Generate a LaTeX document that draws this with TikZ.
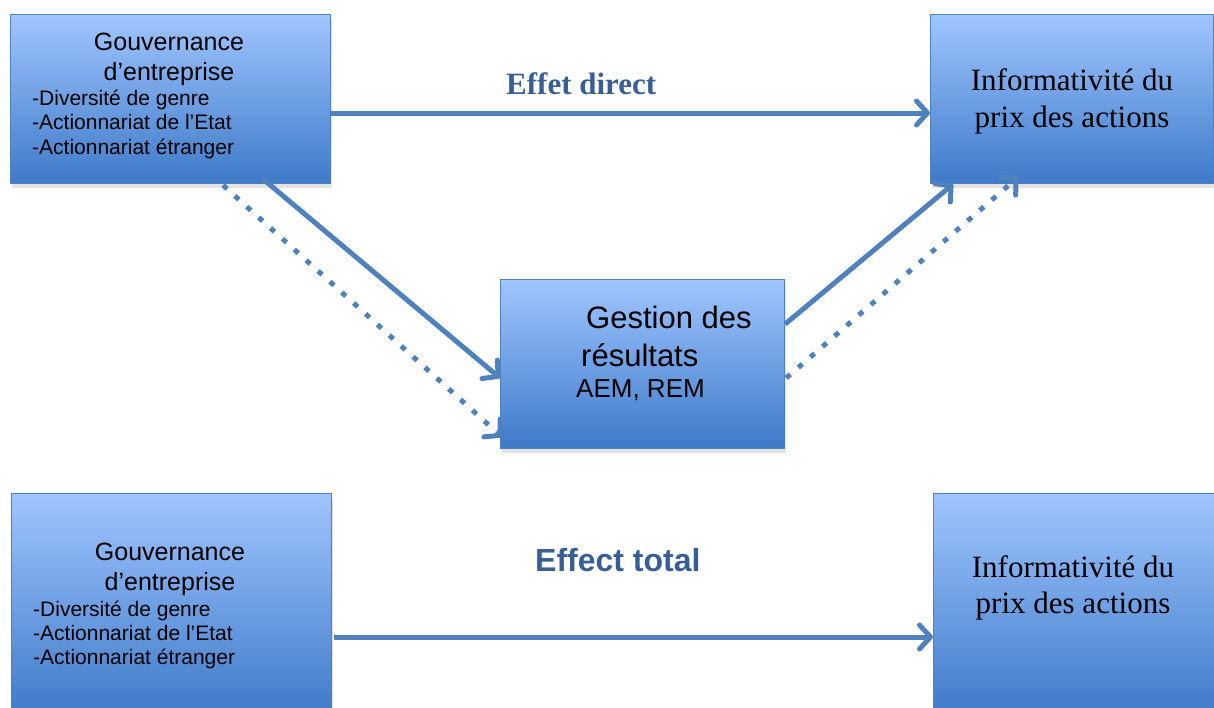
\documentclass[tikz,border=0pt]{standalone}
\usepackage{fontspec}
\setmainfont{Liberation Serif}
\setsansfont{Liberation Sans}
\usepackage{tikz}
\usetikzlibrary{calc}
\usetikzlibrary{shapes}
\usetikzlibrary{arrows.meta}
\usetikzlibrary{shadows,positioning}
\definecolor{boxtop}{RGB}{160,197,255}
\definecolor{boxbot}{RGB}{62,122,200}
\definecolor{boxedge}{RGB}{79,129,189}
\definecolor{linkblue}{RGB}{79,129,189}
\definecolor{labelblue}{RGB}{56,94,150}

\begin{document}
\begin{tikzpicture}[x=1pt,y=-1pt]
  \tikzstyle{box}=[rectangle, anchor=north west, inner sep=0pt, draw=boxedge, line width=1.2pt, top color=boxtop, bottom color=boxbot, drop shadow={shadow xshift=1pt, shadow yshift=-4pt, opacity=0.22}]
  \tikzstyle{connect}=[-{Straight Barb[length=11pt,width=24pt,round]}, line width=5pt, draw=linkblue]
  \tikzstyle{dots}=[connect, dash pattern=on 5.5pt off 10.5pt]
  \tikzstyle{head}=[anchor=base, inner sep=0pt, font=\sffamily\fontsize{25}{30}\selectfont]
  \tikzstyle{item}=[anchor=base west, inner sep=0pt, font=\sffamily\fontsize{21}{25}\selectfont]
  \tikzstyle{price}=[anchor=base, inner sep=0pt, font=\rmfamily\fontsize{31}{38}\selectfont]
  \tikzstyle{mgmt}=[anchor=base west, inner sep=0pt, font=\sffamily\fontsize{31}{38}\selectfont]
  \useasboundingbox (0,0) rectangle (1214,707);

  % upper diagram
    \node[box, minimum width=320pt, minimum height=169pt] (govA) at (10,14) {};
    \node[box, minimum width=283pt, minimum height=169pt] (infoA) at (930,14) {};
    \node[box, minimum width=284pt, minimum height=169pt] (earn) at (500,279) {};
    \node[head] (govAt) at (169,50) {Gouvernance};
    \node[head] (govAs) at (169,80) {d’entreprise};
    \node[item] (govAi) at (32,105) {-Diversité de genre};
    \node[item] (govAj) at (32,129) {-Actionnariat de l’Etat};
    \node[item] (govAk) at (32,154) {-Actionnariat étranger};
    \node[price] (infoAt) at (1072,90) {Informativité du};
    \node[price] (infoAs) at (1072,127) {prix des actions};
    \node[mgmt] (earnt) at (586,328) {Gestion des};
    \node[mgmt] (earns) at (581,366) {résultats};
    \node[anchor=base west, inner sep=0pt, font=\sffamily\fontsize{26}{30}\selectfont] (earnm) at (576,397) {AEM, REM};
    \node[anchor=base west, inner sep=0pt, text=labelblue, font=\rmfamily\bfseries\fontsize{31}{36}\selectfont] (direct) at (506,94) {Effet direct};

    \draw[connect] ($(govA.north east)+(0,99)$) -- ($(infoA.north west)+(0,99)$);
    \draw[connect] ($(govA.south west)+(252,-6)$) -- ($(earn.north west)+(0,99)$);
    \draw[dots] ($(govA.south west)+(213,1)$) -- ($(earn.north west)+(2,158)$);
    \draw[connect] ($(earn.north east)+(0,45)$) -- ($(infoA.south west)+(23,0)$);
    \draw[dots] ($(earn.north east)+(1,99)$) -- ($(infoA.south west)+(88,-7)$);

  % lower diagram
    \node[box, minimum width=320pt, minimum height=222pt] (govB) at (11,493) {};
    \node[box, minimum width=300pt, minimum height=222pt] (infoB) at (933,493) {};
    \node[head] (govBt) at (170,560) {Gouvernance};
    \node[head] (govBs) at (170,590) {d’entreprise};
    \node[item] (govBi) at (33,616) {-Diversité de genre};
    \node[item] (govBj) at (33,640) {-Actionnariat de l’Etat};
    \node[item] (govBk) at (33,664) {-Actionnariat étranger};
    \node[price] (infoBt) at (1073,577) {Informativité du};
    \node[price] (infoBs) at (1073,613) {prix des actions};
    \node[anchor=base west, inner sep=0pt, text=labelblue, font=\sffamily\bfseries\fontsize{32}{36}\selectfont] (total) at (535,571) {Effect total};

    \draw[connect] ($(govB.north east)+(2,144)$) -- ($(infoB.north west)+(0,144)$);
\end{tikzpicture}
\end{document}
